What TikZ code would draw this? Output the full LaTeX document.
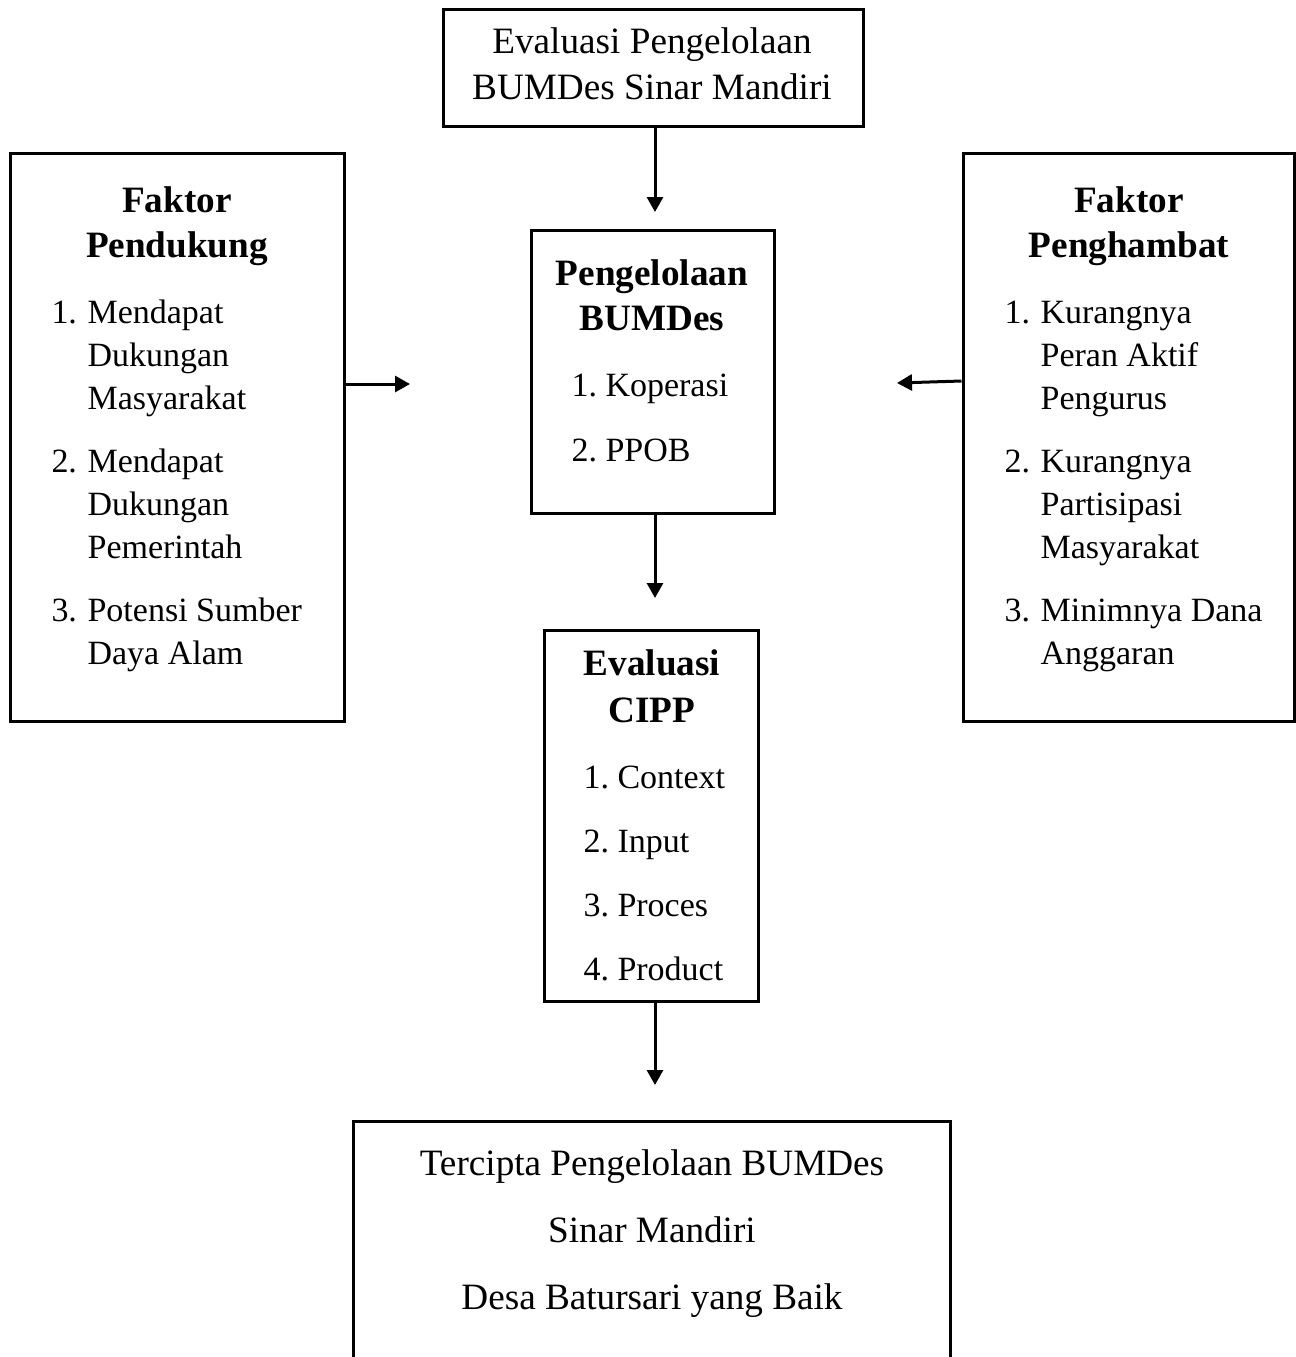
\documentclass[tikz,border=0pt]{standalone}
\usepackage{fontspec}
\setmainfont{Liberation Serif}
\usetikzlibrary{arrows.meta,positioning}

\begin{document}
\begin{tikzpicture}[x=0.5pt, y=-0.5pt, >={Triangle[length=7.5pt,width=8pt]}, line width=1.5pt, font=\fontsize{18.6}{21.5}\selectfont]
    \tikzstyle{box}=[draw=black, rectangle, inner sep=0pt]
    \tikzstyle{title}=[inner sep=0pt, anchor=base, font=\fontsize{18.6}{21.5}\selectfont\bfseries]
    \tikzstyle{items}=[inner sep=0pt, anchor=base west, font=\fontsize{17}{21.5}\selectfont]
    \clip (0,0) rectangle (1296,1357);

    % boxes
    \node[box, minimum width=210pt, minimum height=58.5pt] (eval) at (653,67.5) {};
    \node[box, minimum width=167pt, minimum height=284pt] (pendukung) at (177,437) {};
    \node[box, minimum width=165.5pt, minimum height=284pt] (penghambat) at (1128.5,437) {};
    \node[box, minimum width=121.5pt, minimum height=141.5pt] (mgmt) at (652.5,371.5) {};
    \node[box, minimum width=107pt, minimum height=185.5pt] (cipp) at (651,815.5) {};
    \node[box, minimum width=298.5pt, minimum height=139.5pt] (hasil) at (651.5,1260.5) {};

    % texts
    \node[inner sep=0pt, anchor=base] (eval text) at (652,53)
        {\begin{tabular}[t]{@{}c@{}}Evaluasi Pengelolaan\\[1.5pt] BUMDes Sinar Mandiri\end{tabular}};

    \node[title] (pendukung title) at (177,212)
        {\begin{tabular}[t]{@{}c@{}}Faktor\\[1pt] Pendukung\end{tabular}};
    \node[items] (pendukung list) at (50,323)
        {\begin{tabular}[t]{@{}l@{\hspace{5.3pt}}l@{}}
            1. & Mendapat\\ & Dukungan\\ & Masyarakat\\[10pt]
            2. & Mendapat\\ & Dukungan\\ & Pemerintah\\[10pt]
            3. & Potensi Sumber\\ & Daya Alam
        \end{tabular}};

    \node[title] (penghambat title) at (1129,212)
        {\begin{tabular}[t]{@{}c@{}}Faktor\\[1pt] Penghambat\end{tabular}};
    \node[items] (penghambat list) at (1003,323)
        {\begin{tabular}[t]{@{}l@{\hspace{5.3pt}}l@{}}
            1. & Kurangnya\\ & Peran Aktif\\ & Pengurus\\[10pt]
            2. & Kurangnya\\ & Partisipasi\\ & Masyarakat\\[10pt]
            3. & Minimnya Dana\\ & Anggaran
        \end{tabular}};

    \node[title] (mgmt title) at (652,285)
        {\begin{tabular}[t]{@{}c@{}}Pengelolaan\\[1pt] BUMDes\end{tabular}};
    \node[items] (mgmt list) at (570,396)
        {\begin{tabular}[t]{@{}l@{\ }l@{}}
            1. & Koperasi\\[11pt]
            2. & PPOB
        \end{tabular}};

    \node[title] (cipp title) at (652,675)
        {\begin{tabular}[t]{@{}c@{}}Evaluasi\\[2pt] CIPP\end{tabular}};
    \node[items] (cipp list) at (582,788)
        {\begin{tabular}[t]{@{}l@{\ }l@{}}
            1. & Context\\[10.5pt]
            2. & Input\\[10.5pt]
            3. & Proces\\[10.5pt]
            4. & Product
        \end{tabular}};

    \node[inner sep=0pt, anchor=base] (hasil text) at (652,1175)
        {\begin{tabular}[t]{@{}c@{}}Tercipta Pengelolaan BUMDes\\[12pt] Sinar Mandiri\\[12pt] Desa Batursari yang Baik\end{tabular}};

    % arrows
    \coordinate (a1) at (655,212);
    \coordinate (a2) at (655,598);
    \coordinate (a3) at (655,1085);
    \coordinate (a4) at (410,384);
    \coordinate (a5) at (897,383);

    \draw[->] (eval.south -| a1) -- (a1);
    \draw[->] (mgmt.south -| a2) -- (a2);
    \draw[->] (cipp.south -| a3) -- (a3);
    \draw[->] (pendukung.east |- a4) -- (a4);
    \draw[->] ([yshift=1pt]penghambat.west |- a5) -- (a5);
\end{tikzpicture}
\end{document}
